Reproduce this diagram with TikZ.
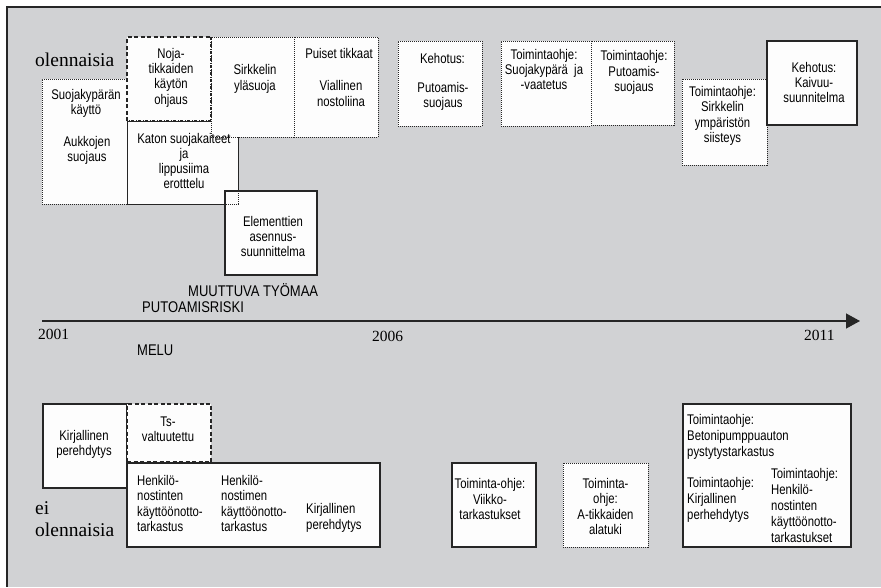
\documentclass[tikz,border=0pt]{standalone}
\usepackage{fontspec}
\setmainfont{Liberation Serif}
\newfontfamily\narrowsans[FakeStretch=0.81]{Liberation Sans}
\newfontfamily\labelsans[FakeStretch=0.84]{Liberation Sans}
\usetikzlibrary{arrows.meta,fit}
\definecolor{panelgray}{RGB}{209,210,212}
\definecolor{edgegray}{RGB}{38,38,38}
\definecolor{cardwhite}{RGB}{253,253,253}

\begin{document}
\begin{tikzpicture}[x=1pt,y=-1pt,
  card/.style={rectangle, inner sep=0pt, outer sep=0pt, fill=cardwhite},
  solidcard/.style={card, draw=edgegray, line width=1.3pt},
  dotcard/.style={card, draw=edgegray, line width=1pt, dash pattern=on 1pt off 1pt},
  dashcard/.style={card, draw=edgegray, line width=1.2pt, dash pattern=on 4pt off 2.5pt},
  dotedge/.style={draw=edgegray, line width=1pt, dash pattern=on 1pt off 1pt},
  dashedge/.style={draw=edgegray, line width=1.2pt, dash pattern=on 4pt off 2.5pt},
  dashdotedge/.style={draw=edgegray, line width=1.2pt, dash pattern=on 3pt off 1.5pt on 1pt off 1.5pt},
  txt/.style={inner sep=0pt, align=center, font=\narrowsans\fontsize{14}{15.3}\selectfont},
  ltxt/.style={txt, align=left, anchor=west},
  caption/.style={inner sep=0pt, anchor=west, font=\labelsans\fontsize{15.5}{17}\selectfont},
  serif/.style={inner sep=0pt, anchor=west, align=left, font=\fontsize{19.5}{22}\selectfont},
  year/.style={inner sep=0pt, anchor=west, font=\fontsize{15.5}{17}\selectfont},
]
\useasboundingbox (0,0) rectangle (881,587);

% panel
\fill[white] (0,0) rectangle (881,587);
\fill[panelgray] (7,7) rectangle (881,587);
\draw[edgegray, line width=2pt] (881,7) -- (7,7) -- (7,587);

% ---------- upper row: measures judged essential ----------
\node[dotcard, fit={(42,79)(127,204)}] (suoja) {};
\node[dotcard, fit={(127,121)(238,204)}] (katon) {};
\node[solidcard, fit={(225,191)(317,275)}] (elem) {};
\draw[dotedge] (katon.south west) rectangle (katon.north east);
\node[card, fit={(127,37)(211,121)}] (noja) {};
\node[dotcard, fit={(211,37)(294,137)}] (sirk) {};
\node[dotcard, fit={(294,37)(378,137)}] (puiset) {};
\draw[dashedge] (noja.south west) -- (noja.north west) -- (noja.north east);
\draw[dashdotedge] (noja.north east) -- (noja.south east) -- (noja.south west);
\node[dotcard, fit={(398,41)(482,126)}] (kehput) {};
\node[dotcard, fit={(501,41)(591,126)}] (toimsuoj) {};
\node[dotcard, fit={(591,41)(674,125)}] (toimput) {};
\node[dotcard, fit={(682,79)(767,165)}] (toimsirk) {};
\node[solidcard, fit={(767,41)(857,125)}] (kehkaiv) {};

\node[txt] (tsuoja1) at (86,103.5) {Suojakypärän\\käyttö};
\node[txt] (tsuoja2) at (87,150.5) {Aukkojen\\suojaus};
\node[txt] (tnoja) at (171,77.5) {Noja-\\tikkaiden\\käytön\\ohjaus};
\node[txt] (tsirk) at (255,79) {Sirkkelin\\yläsuoja};
\node[txt] (tkaton) at (184,161) {Katon suojakaiteet\\ja\\lippusiima\\erotttelu};
\node[txt] (tpuis1) at (339,53) {Puiset tikkaat};
\node[txt] (tpuis2) at (341,93.5) {Viallinen\\nostoliina};
\node[txt] (tkeh1) at (442.5,58) {Kehotus:};
\node[txt] (tkeh2) at (443,96.5) {Putoamis-\\suojaus};
\node[txt] (ttoim1) at (544,69.5) {Toimintaohje:\\Suojakypärä\ \ ja\\-vaatetus};
\node[txt] (ttoim2) at (634,72.5) {Toimintaohje:\\Putoamis-\\suojaus};
\node[txt] (ttoim3) at (722.5,116) {Toimintaohje:\\Sirkkelin\\ympäristön\\siisteys};
\node[txt] (tkaiv) at (814,82.5) {Kehotus:\\Kaivuu-\\suunnitelma};
\node[txt] (telem) at (273,236.5) {Elementtien\\asennus-\\suunnittelma};

\node[serif] (olen) at (35,60) {olennaisia};

\node[caption] (muut) at (188,290.5) {MUUTTUVA TYÖMAA};
\node[caption] (putoa) at (142,307) {PUTOAMISRISKI};
\node[caption] (melu) at (137,350) {MELU};

% ---------- time axis ----------
\coordinate (axisL) at (42,321);
\coordinate (axisR) at (860,321);
\draw[edgegray, line width=1.3pt, -{Triangle[length=14pt,width=15pt]}] (axisL) -- (axisR);
\node[year] (y2001) at (38,334) {2001};
\node[year] (y2006) at (372,336) {2006};
\node[year] (y2011) at (804,335) {2011};

% ---------- lower row: measures judged not essential ----------
\node[solidcard, fit={(43,404)(127,488)}] (kirj) {};
\node[dashcard, fit={(127,404)(211,462)}] (ts) {};
\node[solidcard, fit={(127,463)(380,547)}] (henk) {};
\node[solidcard, fit={(452,463)(536,547)}] (viikko) {};
\node[dotcard, fit={(563,463)(648,547)}] (atikk) {};
\node[solidcard, fit={(683,404)(851,547)}] (betoni) {};

\node[txt] (tkirj) at (84,444.5) {Kirjallinen\\perehdytys};
\node[txt] (tts) at (168,429) {Ts-\\valtuutettu};
\node[ltxt, font=\narrowsans\fontsize{14}{15.5}\selectfont] (thenk1) at (137,503.5) {Henkilö-\\nostinten\\käyttöönotto-\\tarkastus};
\node[ltxt, font=\narrowsans\fontsize{14}{15.5}\selectfont] (thenk2) at (221,503.5) {Henkilö-\\nostimen\\käyttöönotto-\\tarkastus};
\node[ltxt, font=\narrowsans\fontsize{14}{15.5}\selectfont] (thenk3) at (306,518) {Kirjallinen\\perehdytys};
\node[txt] (tviikko) at (490,499) {Toiminta-ohje:\\Viikko-\\tarkastukset};
\node[txt] (tatikk) at (605.5,506.5) {Toiminta-\\ohje:\\A-tikkaiden\\alatuki};
\node[ltxt, font=\narrowsans\fontsize{14}{16}\selectfont] (tbet1) at (687,437) {Toimintaohje:\\Betonipumppuauton\\pystytystarkastus};
\node[ltxt, font=\narrowsans\fontsize{14}{16}\selectfont] (tbet2) at (687,500) {Toimintaohje:\\Kirjallinen\\perhehdytys};
\node[ltxt, font=\narrowsans\fontsize{14}{16}\selectfont] (tbet3) at (771,505) {Toimintaohje:\\Henkilö-\\nostinten\\käyttöönotto-\\tarkastukset};

\node[serif] (eiolen) at (35,519) {ei\\olennaisia};
\end{tikzpicture}
\end{document}
